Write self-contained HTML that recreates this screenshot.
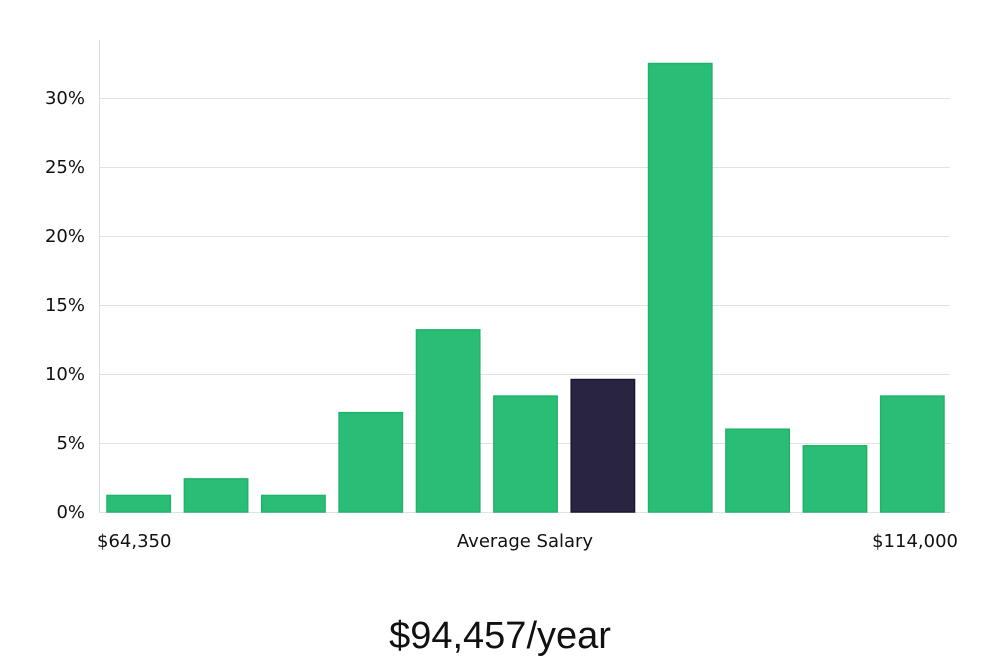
<!DOCTYPE html>
<html><head><meta charset="utf-8"><style>
body{margin:0;background:#fff;width:1000px;height:660px;overflow:hidden}
svg text{font-family:"DejaVu Sans","Liberation Sans",sans-serif;fill:#111}
</style></head><body>
<svg id="chart" width="1000" height="660" xmlns="http://www.w3.org/2000/svg">
<g id="grid"></g>
<line x1="99.5" y1="40" x2="99.5" y2="512" stroke="#ddd"/>
<g id="bars"></g>
<g id="yticks"></g>
<text x="97" y="547" font-size="18">$64,350</text>
<text x="525" y="547" font-size="18" text-anchor="middle">Average Salary</text>
<text x="958" y="547" font-size="18" text-anchor="end">$114,000</text>
<text x="500" y="648" font-size="38" text-anchor="middle" style="font-family:'Liberation Sans',sans-serif;font-weight:300">$94,457/year</text>
</svg>
<script>
const values=[1.2,2.4,1.2,7.2,13.2,8.4,9.6,32.5,6.0,4.8,8.4];
const highlightIndex=6;
const yTicks=[0,5,10,15,20,25,30];
const yTickLabels=["0%","5%","10%","15%","20%","25%","30%"];
const ns="http://www.w3.org/2000/svg";
const x0=99,x1=950,y0=512,pxPerUnit=13.8;
const band=(x1-x0)/values.length;
function y(v){return y0-v*pxPerUnit;}
function xb(i){return x0+i*band;}
const grid=document.getElementById('grid'),yt=document.getElementById('yticks'),bars=document.getElementById('bars');
yTicks.forEach((t,i)=>{
 const l=document.createElementNS(ns,'line');
 l.setAttribute('x1',x0);l.setAttribute('x2',x1);l.setAttribute('y1',y(t)+0.5);l.setAttribute('y2',y(t)+0.5);
 l.setAttribute('stroke','#e2e2e2');
 
 
 grid.appendChild(l);
 const tx=document.createElementNS(ns,'text');
 tx.setAttribute('x',85);tx.setAttribute('y',y(t)+6);tx.setAttribute('text-anchor','end');tx.setAttribute('font-size','18');
 tx.textContent=yTickLabels[i];
 
 
 yt.appendChild(tx);
});
values.forEach((v,i)=>{
 const r=document.createElementNS(ns,'rect');
 const w=band-14;
 r.setAttribute('x',xb(i)+8);r.setAttribute('y',y(v));r.setAttribute('width',w);r.setAttribute('height',y0-y(v));
 const hi=i===highlightIndex;
 r.setAttribute('fill',hi?'#29243f':'#2abd76');
 r.setAttribute('stroke',hi?'#1c1733':'#22b36b');r.setAttribute('stroke-width','1.5');
 
 
 bars.appendChild(r);
});
</script>
</body></html>
